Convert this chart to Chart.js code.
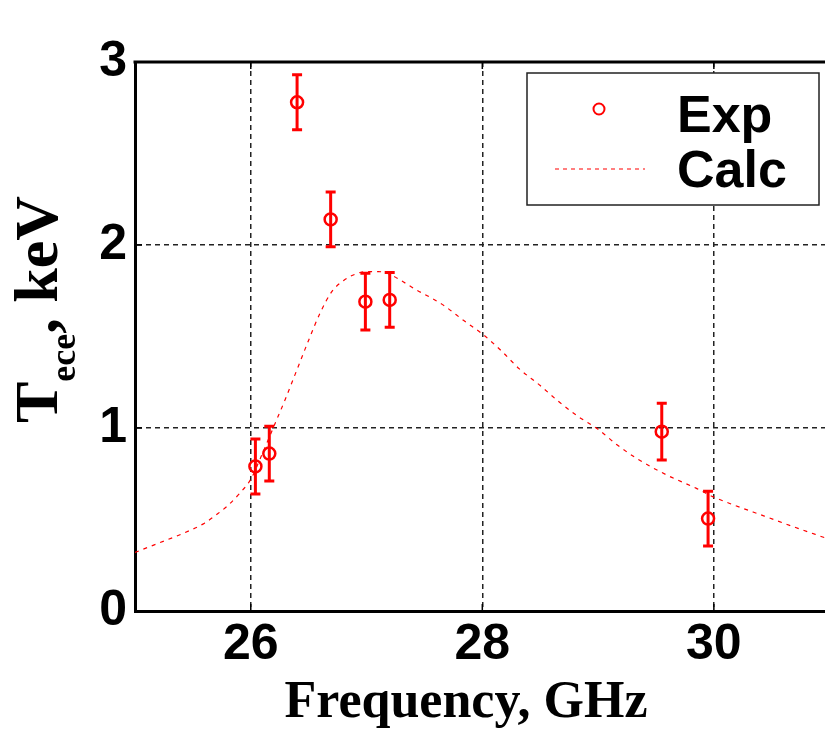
<!DOCTYPE html>
<html>
<head>
<meta charset="utf-8">
<script src="https://cdn.jsdelivr.net/npm/chart.js@4.4.1/dist/chart.umd.min.js"></script>
<style>
  html, body { margin: 0; padding: 0; background: #fff; }
  #chart { display: block; }
</style>
</head>
<body>
<canvas id="chart" width="825" height="738"></canvas>
<script>
// measured points with error bars
const expFreq = [26.04, 26.16, 26.40, 26.69, 26.99, 27.20, 29.55, 29.95];
const expTemp = [0.79, 0.86, 2.78, 2.14, 1.69, 1.70, 0.98, 0.505];
const expErr  = [0.15, 0.15, 0.15, 0.15, 0.155, 0.15, 0.155, 0.15];

// calculated curve
const calcFreq = [25.0, 25.2, 25.4, 25.6, 25.7, 25.8, 25.9, 26.0, 26.1, 26.2,
                  26.3, 26.4, 26.5, 26.6, 26.7, 26.8, 26.9, 27.0, 27.1, 27.2,
                  27.3, 27.43, 27.59, 27.68, 27.84, 28.01, 28.17, 28.32, 28.5, 28.67,
                  28.83, 29.0, 29.16, 29.33, 29.59, 29.85, 29.99, 30.17, 30.43, 30.69, 30.96];
const calcTemp = [0.32, 0.37, 0.42, 0.48, 0.525, 0.575, 0.64, 0.72, 0.86, 1.01,
                  1.16, 1.32, 1.48, 1.63, 1.745, 1.805, 1.84, 1.855, 1.855, 1.84,
                  1.805, 1.755, 1.70, 1.664, 1.587, 1.509, 1.418, 1.323, 1.232, 1.139,
                  1.062, 0.993, 0.91, 0.835, 0.744, 0.67, 0.625, 0.58, 0.52, 0.46, 0.40];

const xTicks = [26, 28, 30];
const yTicks = [0, 1, 2, 3];

const RED = '#ff0000';
const tickFont = { family: "'Liberation Sans', Arial, sans-serif", size: 50, weight: 'bold' };

// error bars for the Exp dataset
const errorBars = {
    id: 'errorBars',
    afterDatasetsDraw(chart) {
        const { ctx, scales: { x, y } } = chart;
        ctx.save();
        ctx.strokeStyle = RED;
        ctx.lineWidth = 3;
        expFreq.forEach((f, i) => {
            const px = x.getPixelForValue(f);
            const top = y.getPixelForValue(expTemp[i] + expErr[i]);
            const bot = y.getPixelForValue(expTemp[i] - expErr[i]);
            ctx.beginPath();
            ctx.moveTo(px, top); ctx.lineTo(px, bot);
            ctx.moveTo(px - 5, top); ctx.lineTo(px + 5, top);
            ctx.moveTo(px - 5, bot); ctx.lineTo(px + 5, bot);
            ctx.stroke();
        });
        ctx.restore();
    }
};

// frame, inward ticks, legend box, axis titles
const decorations = {
    id: 'decorations',
    afterDraw(chart) {
        const { ctx, chartArea: a, scales: { x, y } } = chart;
        ctx.save();

        // top border
        ctx.strokeStyle = '#000';
        ctx.lineWidth = 3;
        ctx.beginPath();
        ctx.moveTo(a.left - 1.5, a.top);
        ctx.lineTo(a.right, a.top);
        ctx.stroke();

        // inward ticks
        ctx.lineWidth = 1.5;
        ctx.beginPath();
        xTicks.forEach(v => {
            const px = x.getPixelForValue(v);
            ctx.moveTo(px, a.bottom); ctx.lineTo(px, a.bottom - 7);
            ctx.moveTo(px, a.top); ctx.lineTo(px, a.top + 7);
        });
        yTicks.forEach(v => {
            const py = y.getPixelForValue(v);
            ctx.moveTo(a.left, py); ctx.lineTo(a.left + 7, py);
        });
        ctx.stroke();

        // legend
        const lx = 527, ly = 73, lw = 292, lh = 132;
        ctx.fillStyle = '#fff';
        ctx.fillRect(lx, ly, lw, lh);
        ctx.strokeStyle = '#222';
        ctx.lineWidth = 1.5;
        ctx.strokeRect(lx, ly, lw, lh);

        const ds = chart.data.datasets;
        ctx.strokeStyle = RED;
        ctx.lineWidth = 2;
        ctx.beginPath();
        ctx.arc(599, 109, 5.5, 0, Math.PI * 2);
        ctx.stroke();

        ctx.lineWidth = 1.2;
        ctx.setLineDash([4, 4]);
        ctx.beginPath();
        ctx.moveTo(555, 169); ctx.lineTo(645, 169);
        ctx.stroke();
        ctx.setLineDash([]);

        ctx.fillStyle = '#000';
        ctx.font = "bold 52px 'Liberation Sans', Arial, sans-serif";
        ctx.textAlign = 'left';
        ctx.textBaseline = 'alphabetic';
        ctx.fillText(ds[0].label, 677, 132);
        ctx.fillText(ds[1].label, 677, 187);

        // x title
        ctx.font = "bold 52px 'Liberation Serif', 'Times New Roman', serif";
        ctx.textAlign = 'center';
        ctx.fillText('Frequency, GHz', 466, 717);

        // y title, rotated with subscript
        ctx.translate(57, 423);
        ctx.rotate(-Math.PI / 2);
        ctx.textAlign = 'left';
        const big = "bold 62px 'Liberation Serif', 'Times New Roman', serif";
        const small = "bold 36px 'Liberation Serif', 'Times New Roman', serif";
        let cx = 0;
        ctx.font = big;
        ctx.fillText('T', cx, 0);
        cx += ctx.measureText('T').width;
        ctx.font = small;
        ctx.fillText('ece', cx, 18);
        cx += ctx.measureText('ece').width;
        ctx.font = big;
        ctx.fillText(', keV', cx, 0);

        ctx.restore();
    }
};

new Chart(document.getElementById('chart').getContext('2d'), {
    type: 'scatter',
    data: {
        datasets: [
            {
                label: 'Exp',
                data: expFreq.map((f, i) => ({ x: f, y: expTemp[i] })),
                pointStyle: 'circle',
                pointRadius: 6,
                pointBorderWidth: 2.5,
                pointBorderColor: RED,
                pointBackgroundColor: 'rgba(0,0,0,0)',
                showLine: false,
                order: 1
            },
            {
                label: 'Calc',
                data: calcFreq.map((f, i) => ({ x: f, y: calcTemp[i] })),
                showLine: true,
                borderColor: RED,
                borderWidth: 1.2,
                borderDash: [4, 5],
                pointRadius: 0,
                cubicInterpolationMode: 'monotone',
                fill: false,
                order: 2
            }
        ]
    },
    options: {
        responsive: false,
        animation: false,
        layout: { autoPadding: false, padding: { top: 62, right: 0, left: 0, bottom: 0 } },
        plugins: {
            legend: { display: false },
            tooltip: { enabled: false }
        },
        scales: {
            x: {
                type: 'linear',
                min: 25,
                max: 30.96,
                afterBuildTicks: s => { s.ticks = xTicks.map(v => ({ value: v })); },
                afterFit: s => { s.height = 127; s.paddingRight = 0; s.paddingLeft = 0; },
                grid: { color: '#222', lineWidth: 1.5, drawTicks: false },
                border: { display: true, color: '#000', width: 3, dash: [5, 4] },
                ticks: { color: '#000', font: tickFont, padding: 4, maxRotation: 0 }
            },
            y: {
                type: 'linear',
                min: 0,
                max: 3,
                afterBuildTicks: s => { s.ticks = yTicks.map(v => ({ value: v })); },
                afterFit: s => { s.width = 135; },
                grid: { color: '#222', lineWidth: 1.5, drawTicks: false },
                border: { display: true, color: '#000', width: 3, dash: [5, 4] },
                ticks: { color: '#000', font: tickFont, padding: 8 }
            }
        }
    },
    plugins: [errorBars, decorations]
});
</script>
</body>
</html>
